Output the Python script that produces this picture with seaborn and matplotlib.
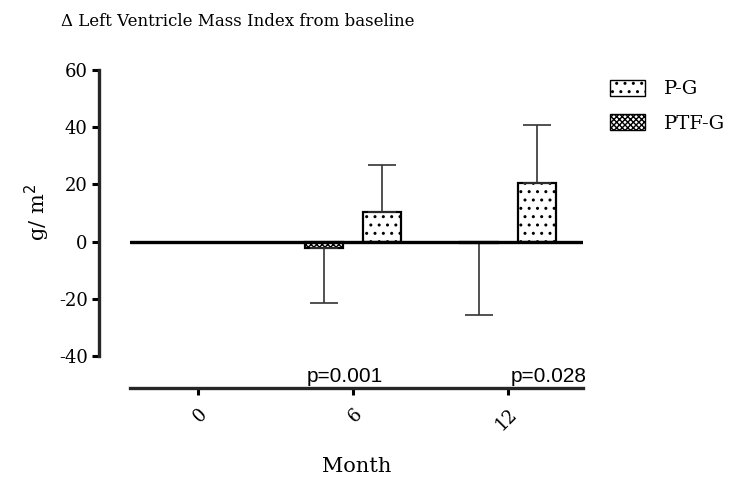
import matplotlib
matplotlib.use("Agg")
import matplotlib.pyplot as plt
import seaborn as sns
import pandas as pd
import numpy as np
from matplotlib.patches import Patch

months = ["0", "6", "12"]
groups = ["PTF-G", "P-G"]
ptf_mean = [0.0, -2.4, -0.5]
ptf_err = [0.0, 18.9, 25.3]
pg_mean = [0.0, 10.5, 20.6]
pg_err = [0.0, 16.4, 20.2]
yticks = [-40, -20, 0, 20, 40, 60]
pvals = ["p=0.001", "p=0.028"]

rows = []
for i, m in enumerate(months):
    rows.append({"Month": m, "Group": "PTF-G", "val": ptf_mean[i]})
    rows.append({"Month": m, "Group": "P-G", "val": pg_mean[i]})
df = pd.DataFrame(rows)

sns.set_theme(style="ticks")
plt.rcParams["font.family"] = ["DejaVu Serif"]
plt.rcParams["hatch.linewidth"] = 1.0
plt.rcParams["text.color"] = "black"
plt.rcParams["axes.labelcolor"] = "black"
plt.rcParams["xtick.color"] = "black"
plt.rcParams["ytick.color"] = "black"

fig = plt.figure(figsize=(7.38, 4.87), dpi=100)
ax = fig.add_axes([130/738, 1-356/487, (583-130)/738, (356-70)/487])

sns.barplot(data=df, x="Month", y="val", hue="Group", order=months, hue_order=groups,
            palette={"PTF-G": "white", "P-G": "white"}, width=0.75, gap=0.34,
            errorbar=None, edgecolor="black", linewidth=1.6, ax=ax, legend=False)

hatches = {"PTF-G": "xxxxxx", "P-G": ".."}
errs = {"PTF-G": ptf_err, "P-G": pg_err}
means = {"PTF-G": ptf_mean, "P-G": pg_mean}
for c, g in zip(ax.containers, groups):
    for j, bar in enumerate(c):
        bar.set_hatch(hatches[g])
        if j == 0:
            bar.set_visible(False)
            continue
        xc = bar.get_x() + bar.get_width() / 2
        m = means[g][j]
        e = errs[g][j]
        yerr = [[0], [e]] if m >= 0 else [[e], [0]]
        ax.errorbar(xc, m, yerr=yerr, fmt="none", ecolor="#333333",
                    elinewidth=1.2, capsize=10, capthick=1.2, zorder=1)

ax.axhline(0, color="black", lw=2.4, zorder=5)

for s in ["top", "right"]:
    ax.spines[s].set_visible(False)
ax.spines["left"].set_position(("outward", 22))
ax.spines["bottom"].set_position(("outward", 23))
for s in ["left", "bottom"]:
    ax.spines[s].set_linewidth(2.4)
ax.tick_params(axis="both", width=2.2, length=5, color="black")
ax.tick_params(axis="x", pad=7, labelrotation=45)

ax.set_xlim(-0.439, 2.484)
ax.set_ylim(-40, 60)
ax.set_yticks(yticks)
ax.set_yticklabels([str(t) for t in yticks], fontsize=13)
ax.set_xticks(range(len(months)))
ax.set_xticklabels(months, fontsize=13, rotation=45, ha="right", rotation_mode="anchor")
ax.set_xlabel("Month", fontsize=15)
ax.set_ylabel("g/ m$^2$", fontsize=15)
ax.xaxis.set_label_coords(0.5, (356-467)/286)
ax.xaxis.label.set_va("center")
ax.yaxis.set_label_coords((37-130)/453, (356-213)/286)
ax.yaxis.label.set_va("center")

ax.text(1 - 0.05, -51.5 + 1.0, pvals[0], fontsize=15, family="Liberation Sans",
        ha="center", va="bottom", clip_on=False)
ax.text(2 + 0.26, -51.5 + 1.0, pvals[1], fontsize=15, family="Liberation Sans",
        ha="center", va="bottom", clip_on=False)

handles = [Patch(facecolor="white", edgecolor="black", hatch="..", label="P-G"),
           Patch(facecolor="white", edgecolor="black", hatch="xxxxxx", label="PTF-G")]
fig.legend(handles=handles, loc="upper left", bbox_to_anchor=(592/738, 1-62/487),
           frameon=False, fontsize=14, handlelength=1.8, handleheight=0.9,
           labelspacing=0.8, handletextpad=1.0)

fig.text(238/738, 1-22/487, "Δ Left Ventricle Mass Index from baseline",
         ha="center", va="center", fontsize=12)

fig.savefig("out.png", dpi=100)
